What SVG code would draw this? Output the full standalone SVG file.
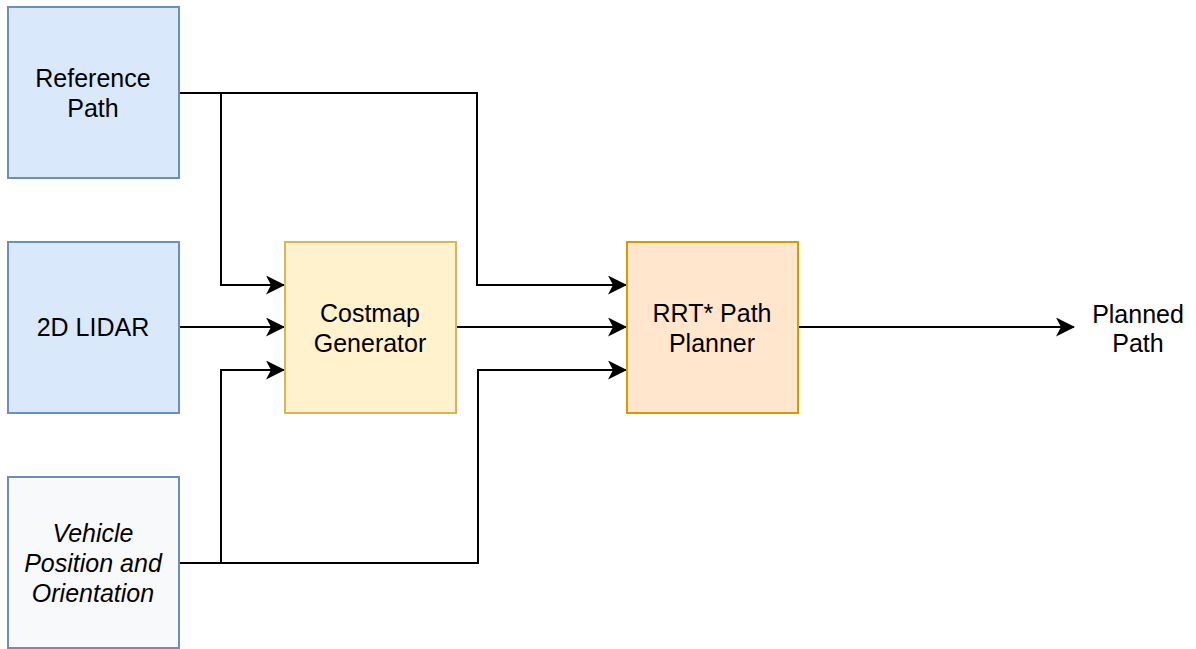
<svg xmlns="http://www.w3.org/2000/svg" width="1196" height="649" viewBox="0 0 1196 649">
  <defs>
    <style>
      .box { stroke-width: 2; }
      .src { fill: #dae8fc; stroke: #6c8ebf; }
      .veh { fill: #f8f9fb; stroke: #6c8ebf; }
      .cost { fill: #fff2cc; stroke: #d6b656; }
      .rrt { fill: #ffe6cc; stroke: #d79b00; }
      .lbl { font-family: "Liberation Sans", Arial, Helvetica, sans-serif; font-size: 25px; fill: #000; text-anchor: middle; }
      .it { font-style: italic; }
      .edge { fill: none; stroke: #000; stroke-width: 2; }
    </style>
    <marker id="arrow" viewBox="0 0 19 19" refX="18" refY="9.5" markerWidth="19" markerHeight="19" markerUnits="userSpaceOnUse" orient="auto">
      <path d="M0,0 L19,9.5 L0,19 L5,9.5 Z" fill="#000"/>
    </marker>
  </defs>

  <g id="connectors">
    <!-- Reference Path: to Costmap and to RRT* planner -->
    <path class="edge" d="M179,93 H477 V285 H626" marker-end="url(#arrow)"/>
    <path class="edge" d="M221,93 V285 H284" marker-end="url(#arrow)"/>
    <!-- 2D LIDAR to Costmap -->
    <path class="edge" d="M179,327 H284" marker-end="url(#arrow)"/>
    <!-- Vehicle pose to Costmap and to RRT* planner -->
    <path class="edge" d="M179,563 H478 V370 H626" marker-end="url(#arrow)"/>
    <path class="edge" d="M221,563 V370 H284" marker-end="url(#arrow)"/>
    <!-- Costmap to RRT* planner -->
    <path class="edge" d="M456,327 H626" marker-end="url(#arrow)"/>
    <!-- RRT* planner output -->
    <path class="edge" d="M798,327 H1074" marker-end="url(#arrow)"/>
  </g>

  <g id="reference-path">
    <rect class="box src" x="8" y="7" width="171" height="171"/>
    <text class="lbl" x="93" y="87">Reference</text>
    <text class="lbl" x="93" y="117">Path</text>
  </g>

  <g id="lidar">
    <rect class="box src" x="8" y="242" width="171" height="171"/>
    <text class="lbl" x="93" y="336">2D LIDAR</text>
  </g>

  <g id="vehicle-pose">
    <rect class="box veh" x="8" y="477" width="171" height="171"/>
    <text class="lbl it" x="93" y="542">Vehicle</text>
    <text class="lbl it" x="93" y="572">Position and</text>
    <text class="lbl it" x="93" y="602">Orientation</text>
  </g>

  <g id="costmap-generator">
    <rect class="box cost" x="285" y="242" width="171" height="171"/>
    <text class="lbl" x="370" y="322">Costmap</text>
    <text class="lbl" x="370" y="352">Generator</text>
  </g>

  <g id="rrt-planner">
    <rect class="box rrt" x="627" y="242" width="171" height="171"/>
    <text class="lbl" x="712" y="322">RRT* Path</text>
    <text class="lbl" x="712" y="352">Planner</text>
  </g>

  <g id="planned-path">
    <text class="lbl" x="1138" y="323">Planned</text>
    <text class="lbl" x="1138" y="352">Path</text>
  </g>
</svg>
